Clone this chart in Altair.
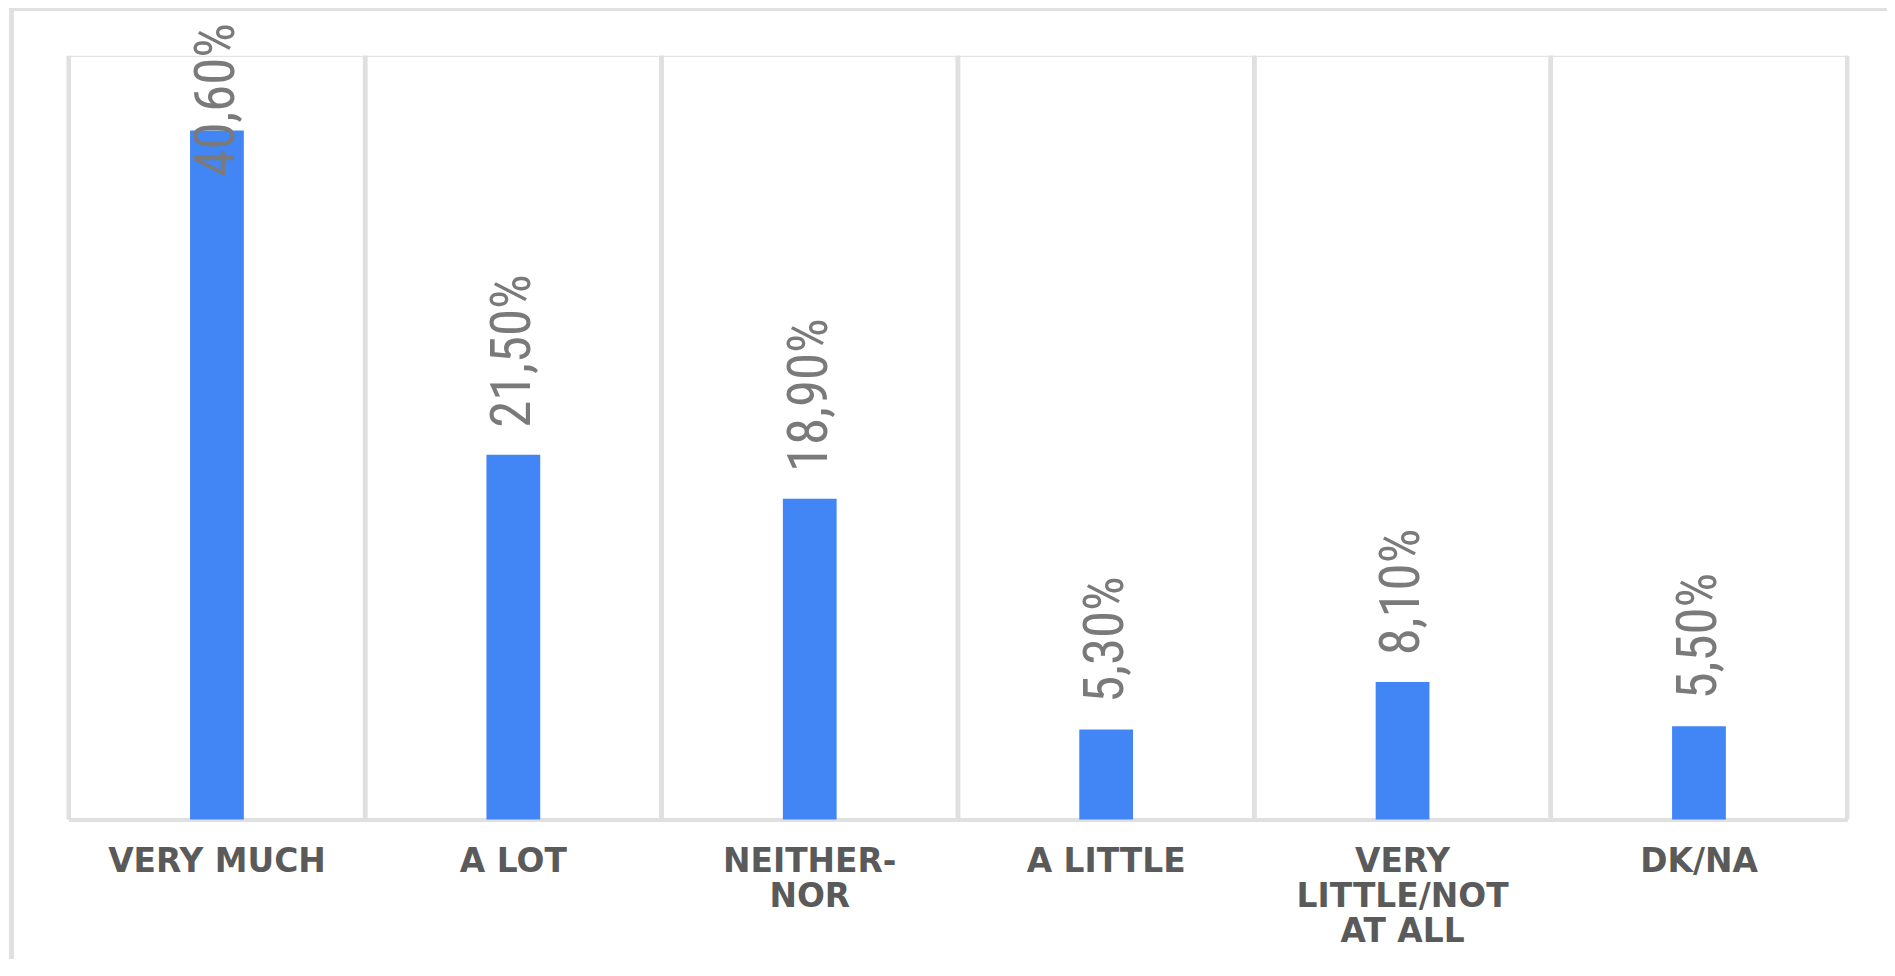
import altair as alt
import pandas as pd

categories = ["VERY MUCH", "A LOT", "NEITHER-\nNOR", "A LITTLE", "VERY\nLITTLE/NOT\nAT ALL", "DK/NA"]
values = [40.6, 21.5, 18.9, 5.3, 8.1, 5.5]
value_labels = ["40,60%", "21,50%", "18,90%", "5,30%", "8,10%", "5,50%"]

df = pd.DataFrame({"cat": categories, "value": values, "label": value_labels})

W, H = 1786, 767
GRID = "#e0e0e0"

x_enc = alt.X(
    "cat:N",
    sort=categories,
    scale=alt.Scale(paddingInner=0, paddingOuter=0),
    axis=alt.Axis(
        title=None,
        labelAngle=0,
        labelAlign="center",
        labelExpr="split(datum.label, '\\n')",
        labelFont="DejaVu Sans",
        labelFontWeight="bold",
        labelFontSize=33,
        labelColor="#5a5a5a",
        labelLineHeight=35,
        labelPadding=26,
        labelLimit=0,
        labelOverlap=False,
        labelBaseline="top",
        ticks=False,
        tickSize=0,
        domainColor=GRID,
        domainWidth=4,
        grid=False,
    ),
)
y_scale = alt.Scale(domain=[0, 45], nice=False, zero=True)

base = alt.Chart(df)

grid_left = base.mark_rule(color=GRID, strokeWidth=4.5).encode(
    x=alt.X("cat:N", sort=categories, bandPosition=0)
)
grid_right = base.mark_rule(color=GRID, strokeWidth=4.5).encode(
    x=alt.X("cat:N", sort=categories, bandPosition=1)
)

bars = base.mark_bar(size=54, color="#4285F4").encode(
    x=x_enc,
    y=alt.Y("value:Q", scale=y_scale, axis=None),
)

texts = base.transform_calculate(
    label_y="min(datum.value, 36.3)"
).mark_text(
    angle=270,
    align="left",
    baseline="middle",
    dx=27,
    fontSize=55,
    font="Liberation Sans Narrow, Roboto Condensed, Liberation Sans",
    color="#7a7a7a",
).encode(
    x=alt.X("cat:N", sort=categories),
    y=alt.Y("label_y:Q", scale=y_scale),
    text="label:N",
)

frame_top = base.mark_rule(color=GRID, strokeWidth=5, clip=False).encode(
    x=alt.value(-60), x2=alt.value(W + 200), y=alt.value(-47.5)
)
frame_left = base.mark_rule(color=GRID, strokeWidth=5, clip=False).encode(
    x=alt.value(-57.5), y=alt.value(-50), y2=alt.value(H + 300)
)

chart = alt.layer(
    frame_top, frame_left, grid_left, grid_right, bars, texts
).properties(
    width=W,
    height=H,
    autosize=alt.AutoSizeParams(type="none"),
    padding={"left": 61, "top": 46, "right": 40, "bottom": 138},
).configure_view(stroke=None).configure(background="white")

chart.save("out.html", embed_options={"renderer": "svg", "actions": False})
